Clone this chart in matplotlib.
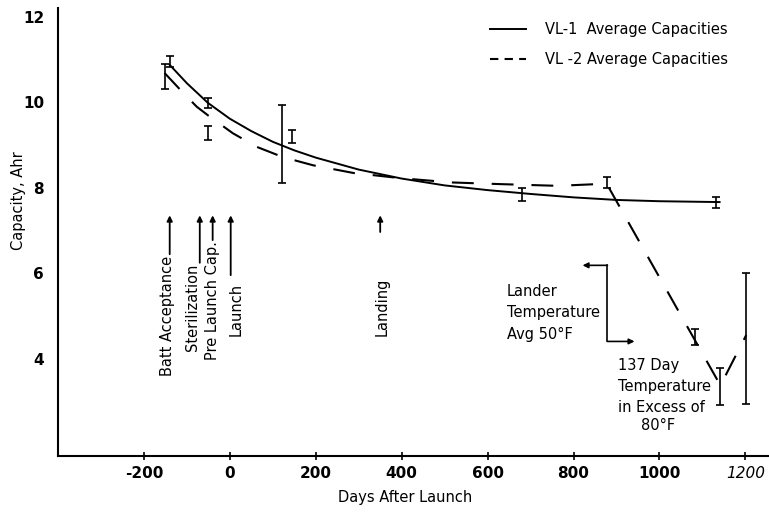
import matplotlib
matplotlib.use("Agg")
import matplotlib.pyplot as plt
from matplotlib.lines import Line2D

plt.rcParams["font.family"] = ["DejaVu Sans"]

# VL-1 average capacity curve (days after launch, Ahr)
vl1_days = [-140, -100, -51, 0, 50, 100, 150, 200, 300, 400, 500, 600, 700, 800, 900, 1000, 1140]
vl1_cap = [10.88, 10.45, 9.99, 9.62, 9.33, 9.08, 8.88, 8.71, 8.43, 8.22, 8.06, 7.95, 7.86, 7.78, 7.72, 7.69, 7.67]

# VL-2 average capacity curve
vl2_days = [-152, -110, -77, -51, 7, 63, 124, 194, 288, 397, 514, 630, 763, 877, 1142, 1202]
vl2_cap = [10.69, 10.24, 9.90, 9.70, 9.28, 8.96, 8.72, 8.53, 8.35, 8.23, 8.13, 8.09, 8.05, 8.10, 3.38, 4.56]

# measured points with spread
vl1_pt_days = [-140, -51, 121, 681, 1132]
vl1_pt_cap = [10.96, 9.98, 9.03, 7.85, 7.67]
vl1_pt_err = [0.13, 0.12, 0.92, 0.15, 0.13]

vl2_pt_days = [-152, -51, 145, 877, 1083, 1142, 1202]
vl2_pt_cap = [10.61, 9.29, 9.20, 8.13, 4.51, 3.35, 4.48]
vl2_pt_err = [0.30, 0.17, 0.15, 0.12, 0.19, 0.43, 1.53]

x_ticks = [-200, 0, 200, 400, 600, 800, 1000, 1200]
y_ticks = [4, 6, 8, 10, 12]

# event arrows: label, text x, text top, arrow x, arrow tail
events = [
    ("Batt Acceptance", -144, 6.42, -140, 6.45),
    ("Sterilization", -86, 6.22, -70, 6.25),
    ("Pre Launch Cap.", -40, 6.75, -40, 6.78),
    ("Launch", 14, 5.78, 2, 5.96),
    ("Landing", 355, 5.90, 350, 6.97),
]
arrow_tip = 7.36

fig = plt.figure(figsize=(7.69, 5.12), dpi=100)
ax = fig.add_axes([58 / 769, 1 - 456 / 512, 1 - 58 / 769, 448 / 512])

ax.plot(vl1_days, vl1_cap, color="k", lw=1.4)
ax.plot(vl2_days, vl2_cap, color="k", lw=1.5, ls=(0, (10.5, 8.6)))
ax.errorbar(vl1_pt_days, vl1_pt_cap, yerr=vl1_pt_err, fmt="none", ecolor="k",
            elinewidth=1.2, capsize=3, capthick=1.2)
ax.errorbar(vl2_pt_days, vl2_pt_cap, yerr=vl2_pt_err, fmt="none", ecolor="k",
            elinewidth=1.2, capsize=3, capthick=1.2)

ax.set_xlim(-400, 1255)
ax.set_ylim(1.73, 12.21)
for s in ["top", "right"]:
    ax.spines[s].set_visible(False)
ax.spines["left"].set_linewidth(1.5)
ax.spines["bottom"].set_linewidth(1.5)

ax.set_xticks(x_ticks)
ax.set_xticklabels([str(v) for v in x_ticks], fontsize=11, fontweight="bold")
lab = ax.get_xticklabels()[-1]
lab.set_fontstyle("italic")
lab.set_fontweight("normal")
ax.set_yticks(y_ticks)
ax.set_yticklabels([str(v) for v in y_ticks], fontsize=11, fontweight="bold")
ax.tick_params(axis="y", length=0, pad=10)
ax.tick_params(axis="x", direction="inout", length=6, width=1.2, pad=4)

ax.set_xlabel("Days After Launch", fontsize=10.5, labelpad=6)
ax.xaxis.set_label_coords(0.488, -0.075)
ax.set_ylabel("Capacity, Ahr", fontsize=10.5)
ax.yaxis.set_label_coords(-0.045, 0.57)

for label, tx, ttop, axx, tail in events:
    ax.text(tx, ttop, label, rotation=90, ha="center", va="top", fontsize=10.5)
    ax.annotate("", xy=(axx, arrow_tip), xytext=(axx, tail),
                arrowprops=dict(arrowstyle="-|>", color="k", lw=1.3,
                                mutation_scale=8, shrinkA=0, shrinkB=0))

# lander temperature bracket
ax.text(645, 5.08, "Lander\nTemperature\nAvg 50\u00b0F", ha="left", va="center",
        fontsize=10.5, linespacing=1.55)
ax.plot([879, 879], [6.19, 4.41], color="k", lw=1.2)
ax.annotate("", xy=(821, 6.19), xytext=(879, 6.19),
            arrowprops=dict(arrowstyle="-|>", color="k", lw=1.2, mutation_scale=8,
                            shrinkA=0, shrinkB=0))
ax.annotate("", xy=(942, 4.41), xytext=(879, 4.41),
            arrowprops=dict(arrowstyle="-|>", color="k", lw=1.2, mutation_scale=8,
                            shrinkA=0, shrinkB=0))

ax.text(904, 3.35, "137 Day\nTemperature\nin Excess of", ha="left", va="center",
        fontsize=10.5, linespacing=1.5)
ax.text(997, 2.45, "80\u00b0F", ha="center", va="center", fontsize=10.5)

handles = [Line2D([], [], color="k", lw=1.4),
           Line2D([], [], color="k", lw=1.5, ls=(0, (4, 3)))]
ax.legend(handles, ["VL-1  Average Capacities", "VL -2 Average Capacities"],
          loc="upper left", bbox_to_anchor=(490 / 769, 1 - 22 / 512),
          bbox_transform=fig.transFigure, frameon=False, fontsize=10.5,
          handlelength=2.5, handletextpad=1.3, labelspacing=1.05,
          borderpad=0, borderaxespad=0)

fig.savefig("out.png", dpi=100)
